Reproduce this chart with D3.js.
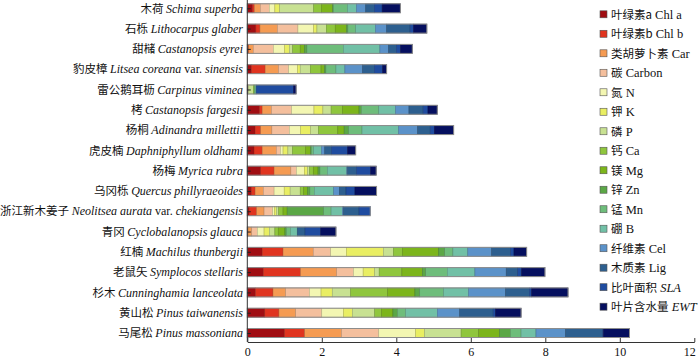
<!DOCTYPE html>
<html><head><meta charset="utf-8">
<script src="https://cdn.jsdelivr.net/npm/d3@7"></script>
<style>
html,body{margin:0;padding:0;background:#fff;}
svg{display:block;}
text{font-family:"Liberation Serif","Noto Sans CJK SC",serif;fill:#111;}
</style></head>
<body><svg id="chart" width="700" height="358"></svg>
<script>
const cnNames = ["木荷","石栎","甜槠","豹皮樟","雷公鹅耳枥","栲","杨桐","虎皮楠","杨梅","乌冈栎","浙江新木姜子","青冈","红楠","老鼠矢","杉木","黄山松","马尾松"];
const latinNames = ["Schima superba","Lithocarpus glaber","Castanopsis eyrei","Litsea coreana var. sinensis","Carpinus viminea","Castanopsis fargesii","Adinandra millettii","Daphniphyllum oldhami","Myrica rubra","Quercus phillyraeoides","Neolitsea aurata var. chekiangensis","Cyclobalanopsis glauca","Machilus thunbergii","Symplocos stellaris","Cunninghamia lanceolata","Pinus taiwanensis","Pinus massoniana"];

const seriesKeys = ["chlA","chlB","car","carbon","N","K","P","Ca","Mg","Zn","Mn","B","Cel","Lig","SLA","EWT"];
const legendCn = ["叶绿素a","叶绿素b","类胡萝卜素","碳","氮","钾","磷","钙","镁","锌","锰","硼","纤维素","木质素","比叶面积","叶片含水量"];
const legendEn = ["Chl a","Chl b","Car","Carbon","N","K","P","Ca","Mg","Zn","Mn","B","Cel","Lig","SLA","EWT"];
const legendItalic = [false,false,false,false,false,false,false,false,false,false,false,false,false,false,true,true];
const colors = ["#a00d12","#e0341f","#f59b52","#f4bf9d","#f3f6b2","#e9ee62","#c8e192","#8fc63d","#7cb51b","#5ba746","#6ebd7b","#71c0a6","#5b92c9","#2d5f8f","#1f4ca0","#050f5f"];

const chlA   = [0.14,0.23,0.02,0.11,0.02,0.33,0.21,0.18,0.36,0.11,0.05,0.02,0.40,0.43,0.22,0.47,1.00];
const chlB   = [0.05,0.11,0.02,0.37,0.00,0.07,0.15,0.22,0.36,0.10,0.20,0.00,0.56,1.00,0.47,0.38,0.54];
const car    = [0.16,0.47,0.12,0.36,0.00,0.25,0.30,0.38,0.45,0.22,0.20,0.10,0.81,0.97,0.34,0.45,0.99];
const carbon = [0.24,0.55,0.54,0.27,0.00,0.54,0.47,0.11,0.15,0.29,0.23,0.15,0.47,0.45,0.64,0.70,1.00];
const N      = [0.15,0.42,0.30,0.24,0.02,0.60,0.30,0.07,0.21,0.27,0.05,0.18,0.42,0.26,0.31,0.58,0.99];
const K      = [0.13,0.09,0.13,0.07,0.00,0.24,0.27,0.13,0.09,0.16,0.05,0.14,0.99,0.31,0.30,0.24,0.24];
const P      = [0.91,0.25,0.09,0.27,0.12,0.22,0.21,0.12,0.05,0.27,0.06,0.15,0.27,0.12,0.49,0.60,0.98];
const Ca     = [0.21,0.24,0.20,0.29,0.03,0.30,0.52,0.35,0.10,0.09,0.12,0.09,0.24,0.61,1.00,0.18,0.47];
const Mg     = [0.30,0.30,0.11,0.09,0.00,0.45,0.17,0.14,0.13,0.11,0.11,0.18,0.98,0.55,0.73,0.31,0.56];
const Zn     = [0.02,0.04,0.07,0.04,0.00,0.06,0.12,0.02,0.05,0.06,0.98,0.04,0.16,0.09,0.13,0.12,0.29];
const Mn     = [0.38,0.21,0.98,0.27,0.03,0.47,0.36,0.06,0.20,0.12,0.20,0.11,0.22,0.58,0.64,0.22,0.29];
const B      = [0.24,0.53,0.98,0.24,0.02,0.45,0.98,0.21,0.52,0.52,0.30,0.18,0.40,0.74,0.67,0.85,0.40];
const Cel    = [0.25,0.30,0.23,0.47,0.00,0.36,0.51,0.09,0.02,0.15,0.03,0.00,0.64,0.84,0.99,0.60,0.79];
const Lig    = [0.23,0.63,0.21,0.32,0.00,0.38,0.34,0.18,0.24,0.18,0.42,0.21,0.51,0.31,0.64,0.90,1.00];
const SLA    = [0.21,0.09,0.11,0.22,1.00,0.13,0.11,0.43,0.38,0.24,0.30,0.42,0.09,0.10,0.06,0.06,0.02];
const EWT    = [0.49,0.36,0.32,0.11,0.07,0.25,0.52,0.22,0.15,0.58,0.00,0.41,0.34,0.63,0.98,0.69,0.70];

const xTicks = [0,2,4,6,8,10,12];

const seriesArrays = [chlA,chlB,car,carbon,N,K,P,Ca,Mg,Zn,Mn,B,Cel,Lig,SLA,EWT];
const rows = cnNames.map((c,i)=>{
  const r = {name:c};
  seriesKeys.forEach((k,j)=>{ r[k]=seriesArrays[j][i]; });
  return r;
});

const svg = d3.select("#chart");
const x0 = 247.3, axisY = 342;
const x = d3.scaleLinear().domain([0,12]).range([x0, x0+447]);
const y = d3.scalePoint().domain(cnNames).range([8.3, 333]);
const barH = 9;
const color = d3.scaleOrdinal().domain(seriesKeys).range(colors);

const stacked = d3.stack().keys(seriesKeys)(rows);

const gBars = svg.append("g");
stacked.forEach(layer=>{
  gBars.append("g").selectAll("rect").data(layer).join("rect")
    .attr("x", d=>x(d[0]))
    .attr("y", d=>y(d.data.name)-barH/2)
    .attr("width", d=>Math.max(0, x(d[1])-x(d[0])))
    .attr("height", barH)
    .attr("fill", color(layer.key))
    .attr("stroke", d3.color(color(layer.key)).darker(0.9))
    .attr("stroke-width", 0.5);
});
gBars.append("g").selectAll("rect").data(rows).join("rect")
  .attr("x", x(0))
  .attr("y", d=>y(d.name)-barH/2)
  .attr("width", d=>x(d3.sum(seriesKeys,k=>d[k]))-x(0))
  .attr("height", barH)
  .attr("fill","none")
  .attr("stroke","#8c8c8c")
  .attr("stroke-width",1);

// x axis
const xAxis = d3.axisBottom(x).tickValues(xTicks).tickFormat(d3.format("d")).tickSizeInner(-4).tickSizeOuter(0).tickPadding(5);
const gx = svg.append("g").attr("transform",`translate(0,${axisY})`).call(xAxis);
gx.select(".domain").attr("stroke","#333");
gx.selectAll(".tick line").attr("stroke","#333");
gx.selectAll("text").attr("font-size",12).attr("font-family","Liberation Serif").attr("fill","#111");
gx.selectAll(".tick").filter(d=>d===12).select("text").attr("text-anchor","end").attr("dx","1");

// y axis
const yAxis = d3.axisLeft(y).tickSizeInner(-3.5).tickSizeOuter(0).tickFormat("");
const gy = svg.append("g").attr("transform",`translate(${x0},0)`).call(yAxis);
gy.select(".domain").attr("d",`M0,0V${axisY}`).attr("stroke","#333");
gy.selectAll(".tick line").attr("stroke","#222");

// y labels
const labels = svg.append("g");
cnNames.forEach((c,i)=>{
  const t = labels.append("text")
    .attr("x", 243).attr("y", y(c)).attr("dy","0.35em")
    .attr("text-anchor","end").attr("font-size",12);
  t.append("tspan").text(c+" ").attr("font-family","Noto Sans CJK SC").attr("font-size",11.5);
  const parts = latinNames[i].split(" var. ");
  t.append("tspan").text(parts[0]).attr("font-style","italic");
  if(parts.length>1){
    t.append("tspan").text(" var. ");
    t.append("tspan").text(parts[1]).attr("font-style","italic");
  }
});

// legend
const legend = svg.append("g");
const ly = d3.scalePoint().domain(seriesKeys).range([14.3, 306.7]);
seriesKeys.forEach((k,i)=>{
  const g = legend.append("g").attr("transform",`translate(0,${ly(k)})`);
  g.append("rect").attr("x",600).attr("y",-3.5).attr("width",7).attr("height",7)
    .attr("fill",colors[i]).attr("stroke","#555").attr("stroke-width",0.6);
  const t = g.append("text").attr("x",611).attr("y",0).attr("dy","0.35em").attr("font-size",12.5);
  t.append("tspan").text(legendCn[i]).attr("font-family","Noto Sans CJK SC").attr("font-size",11.5);
  t.append("tspan").text(" "+legendEn[i]).attr("font-style", legendItalic[i]?"italic":"normal");
});
</script></body></html>
